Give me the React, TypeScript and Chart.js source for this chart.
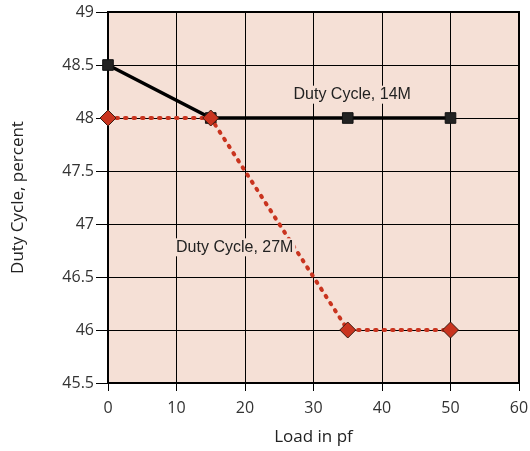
import React, { useEffect, useRef } from "react";
import { Chart, registerables } from "chart.js";
Chart.register(...registerables);

const loads = [0, 15, 35, 50];
const duty14M = [48.5, 48, 48, 48];
const duty27M = [48, 48, 46, 46];
const xTicks = [0, 10, 20, 30, 40, 50, 60];
const yTicks = [45.5, 46, 46.5, 47, 47.5, 48, 48.5, 49];
const seriesNames = ["Duty Cycle, 14M", "Duty Cycle, 27M"];
const labelPos = [
  { x: 35.65, y: 48.22 },
  { x: 18.5, y: 46.78 },
];

const BG = "#f5e0d6";
const RED = "#c9341f";
const FONT = "'Open Sans', 'Noto Sans', sans-serif";

const framePlugin = {
  id: "frameAndLabels",
  beforeDatasetsDraw(chart: any) {
    const { ctx, chartArea } = chart;
    ctx.save();
    ctx.strokeStyle = "#000";
    ctx.lineWidth = 2;
    ctx.strokeRect(chartArea.left, chartArea.top, chartArea.right - chartArea.left, chartArea.bottom - chartArea.top);
    ctx.restore();
  },
  afterDatasetsDraw(chart: any) {
    const { ctx, scales } = chart;
    ctx.save();
    ctx.font = "16px 'Liberation Sans', Arial, sans-serif";
    ctx.textAlign = "center";
    ctx.textBaseline = "middle";
    seriesNames.forEach((name, i) => {
      const px = scales.x.getPixelForValue(labelPos[i].x);
      const py = scales.y.getPixelForValue(labelPos[i].y);
      const w = ctx.measureText(name).width;
      ctx.fillStyle = BG;
      ctx.fillRect(px - w / 2 - 2, py - 9, w + 4, 18);
      ctx.fillStyle = "#222";
      ctx.fillText(name, px, py);
    });
    ctx.restore();
  },
};

const bgPlugin = {
  id: "plotBg",
  beforeDraw(chart: any) {
    const { ctx, chartArea } = chart;
    ctx.save();
    ctx.fillStyle = "#fff";
    ctx.fillRect(0, 0, chart.width, chart.height);
    ctx.fillStyle = BG;
    ctx.fillRect(chartArea.left, chartArea.top, chartArea.right - chartArea.left, chartArea.bottom - chartArea.top);
    ctx.restore();
  },
};

export default function App() {
  const ref = useRef<HTMLCanvasElement>(null);
  useEffect(() => {
    const chart = new Chart(ref.current!, {
      type: "line",
      data: {
        datasets: [
          {
            label: seriesNames[1],
            data: loads.map((x, i) => ({ x, y: duty27M[i] })),
            borderColor: RED,
            borderWidth: 4,
            borderDash: [1.5, 7],
            borderCapStyle: "round",
            tension: 0,
            clip: false,
            pointStyle: "rectRot",
            pointRadius: 8,
            pointBackgroundColor: RED,
            pointBorderColor: "#3a1a10",
            pointBorderWidth: 1,
          },
          {
            label: seriesNames[0],
            data: loads.map((x, i) => ({ x, y: duty14M[i] })),
            borderColor: "#000",
            borderWidth: 3.5,
            tension: 0,
            clip: false,
            pointStyle: "rect",
            pointRadius: 7.5,
            pointBackgroundColor: "#222",
            pointBorderColor: "#111",
            pointBorderWidth: 1,
          },
        ],
      },
      options: {
        animation: false,
        responsive: false,
        layout: { padding: { top: 12, right: 11, left: 4, bottom: 0 } },
        plugins: { legend: { display: false }, tooltip: { enabled: false } },
        scales: {
          x: {
            type: "linear",
            min: 0,
            max: 60,
            afterBuildTicks: (s: any) => {
              s.ticks = xTicks.map((v) => ({ value: v }));
            },
            afterFit: (s: any) => {
              s.height = 68;
              s.paddingRight = 0;
              s.paddingLeft = 0;
            },
            grid: { color: "#000", lineWidth: 1, tickLength: 8, drawTicks: true },
            border: { display: false },
            ticks: { color: "#333", font: { size: 16, family: FONT }, padding: 8, maxRotation: 0, callback: (v: any) => String(v) },
            title: { display: true, text: "Load in pf", color: "#222", font: { size: 17, family: FONT }, padding: { top: 2 } },
          },
          y: {
            type: "linear",
            min: 45.5,
            max: 49,
            afterBuildTicks: (s: any) => {
              s.ticks = yTicks.map((v) => ({ value: v }));
            },
            afterFit: (s: any) => {
              s.width = 104;
              s.paddingTop = 0;
              s.paddingBottom = 0;
            },
            grid: { color: "#000", lineWidth: 1, tickLength: 12, drawTicks: true },
            border: { display: false },
            ticks: { color: "#333", font: { size: 16, family: FONT }, padding: 2, callback: (v: any) => String(v) },
            title: { display: true, text: "Duty Cycle, percent", color: "#222", font: { size: 17, family: FONT }, padding: { bottom: 4 } },
          },
        },
      },
      plugins: [bgPlugin, framePlugin],
    } as any);
    return () => chart.destroy();
  }, []);
  return (
    <div style={{ position: "fixed", left: 0, top: 0, width: 530, height: 451 }}>
      <canvas ref={ref} width={530} height={451} style={{ display: "block" }} />
    </div>
  );
}
